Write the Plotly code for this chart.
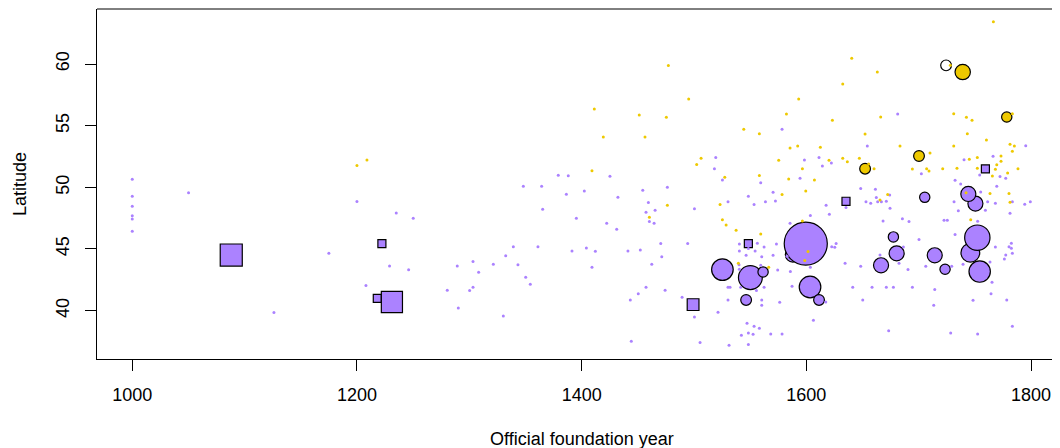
import plotly.graph_objects as go

# ---------------- data ----------------
# small dots (all other towns)
purple_dot_year = [
    1000.0, 1000.0, 1000.0, 1000.0, 1000.0, 1000.0, 1050.1, 1200.0, 1235.0, 1250.1, 1175.0, 1229.0, 1246.0, 1208.0, 1126.1,
    1379.2, 1388.1, 1425.2,
    1348.1, 1364.4, 1386.4, 1402.4, 1432.3, 1365.3, 1395.3, 1422.3, 1431.2, 1339.2, 1361.1, 1332.4, 1391.4, 1404.2,
    1412.2, 1441.2, 1409.2, 1289.3, 1303.3, 1308.3, 1321.4, 1343.3, 1350.2, 1354.3, 1280.4, 1300.3, 1303.3, 1290.2,
    1330.3, 1450.4, 1443.3, 1444.2, 1452.2,
    1578.4, 1519.4, 1518.2, 1598.3, 1611.3, 1614.3, 1622.3,
    1525.3, 1559.4, 1594.4, 1476.3, 1454.4, 1548.4, 1570.4, 1530.3, 1553.5, 1563.6, 1572.5, 1459.4, 1457.3, 1465.4,
    1460.3, 1464.5, 1500.4, 1617.6, 1620.5, 1603.6, 1585.5, 1470.4, 1494.4, 1471.3, 1462.4, 1540.4, 1556.4, 1562.4,
    1573.4, 1540.4, 1548.4, 1554.4, 1546.4, 1560.3, 1570.4, 1582.8, 1540.1, 1559.4, 1574.5, 1585.8, 1603.6, 1540.4,
    1622.6, 1625.3, 1626.5, 1457.3, 1474.3, 1489.4, 1530.3, 1532.1, 1541.6, 1555.6, 1562.4, 1530.3, 1560.3, 1560.3,
    1576.3, 1587.3, 1617.3, 1500.4, 1521.4, 1606.3, 1547.2, 1553.5, 1558.2, 1542.2, 1548.4, 1552.6, 1568.3, 1578.4,
    1505.4, 1531.2, 1548.4,
    1681.3, 1654.3, 1795.3, 1740.4, 1766.2,
    1702.4, 1754.3, 1772.4, 1777.5, 1732.4, 1737.4, 1769.5, 1648.4, 1661.5, 1662.3, 1674.2, 1653.1, 1657.3, 1663.5,
    1666.8, 1671.2, 1674.5, 1635.3, 1731.5, 1755.2, 1761.4, 1768.3, 1783.4, 1794.4, 1799.4, 1759.4, 1735.3, 1781.3,
    1668.3, 1685.5, 1691.4, 1722.6, 1725.5, 1752.5, 1732.4, 1700.3, 1686.4, 1665.6, 1768.3, 1782.5, 1780.4, 1782.5,
    1777.5, 1776.3, 1783.4, 1634.5, 1648.4, 1682.5, 1690.5, 1706.3, 1729.4, 1739.5, 1763.5, 1765.3, 1641.3, 1658.5,
    1671.2, 1677.5, 1694.4, 1714.3, 1764.4, 1650.2, 1748.4, 1778.4, 1713.4, 1783.4, 1673.3, 1728.5, 1752.5,
]
purple_dot_lat = [
    50.65, 49.27, 48.46, 47.70, 47.43, 46.43, 49.57, 48.86, 47.92, 47.49, 44.65, 43.62, 43.32, 42.03, 39.86,
    50.97, 50.94, 50.89,
    50.09, 50.09, 49.44, 49.71, 49.19, 48.22, 47.49, 47.09, 46.60, 45.19, 45.19, 44.46, 44.84, 45.09,
    44.82, 44.84, 43.52, 43.63, 43.98, 43.11, 43.76, 43.73, 42.71, 42.14, 41.65, 41.63, 41.90, 40.22,
    39.57, 41.38, 40.87, 37.52, 44.92,
    54.70, 52.41, 51.51, 52.22, 52.41, 51.73, 51.97,
    50.60, 50.38, 50.73, 50.00, 49.76, 49.27, 49.60, 48.84, 48.60, 48.84, 48.90, 48.76, 47.98, 48.14,
    47.22, 47.09, 48.27, 48.54, 47.82, 47.71, 47.09, 45.44, 45.44, 44.38, 43.76, 45.41, 45.46, 45.17,
    45.41, 44.84, 45.03, 44.84, 44.49, 44.38, 44.49, 44.41, 43.73, 43.68, 43.30, 43.17, 43.52, 43.36,
    45.19, 45.14, 45.44, 41.90, 41.65, 41.09, 41.90, 41.90, 41.90, 41.63, 41.90, 40.87, 40.87, 40.44,
    40.68, 41.98, 40.71, 39.49, 39.87, 39.22, 38.98, 38.73, 38.57, 38.00, 38.19, 38.08, 38.11, 38.11,
    37.41, 37.19, 37.25,
    55.95, 53.35, 53.38, 52.24, 52.51,
    51.11, 51.00, 50.87, 50.73, 50.57, 50.27, 50.09, 49.90, 49.84, 49.17, 49.38, 48.84, 48.71, 48.84,
    48.84, 48.87, 48.30, 48.36, 48.84, 49.63, 48.84, 48.71, 48.84, 48.63, 48.84, 48.14, 48.11, 47.90,
    47.27, 47.46, 47.22, 47.33, 47.33, 47.25, 46.17, 45.76, 45.17, 44.52, 45.17, 45.46, 45.19, 45.06,
    44.52, 44.19, 44.65, 43.84, 43.60, 43.84, 43.33, 43.60, 43.60, 43.76, 43.95, 42.30, 41.90, 41.90,
    41.90, 41.90, 41.90, 41.71, 41.38, 40.87, 40.84, 40.87, 40.44, 38.73, 38.38, 38.19, 38.11,
]

gold_dot_year = [
    1200.0, 1208.9,
    1411.3, 1451.3, 1419.3, 1456.4, 1409.2,
    1477.2, 1495.3, 1475.4, 1544.3, 1558.2, 1593.2, 1582.3, 1623.2, 1585.5, 1592.3, 1612.5, 1506.3, 1502.4,
    1575.4, 1596.5, 1620.2,
    1527.4, 1558.2, 1584.3, 1607.2, 1599.5, 1578.4, 1476.3, 1523.2, 1460.3, 1525.3, 1528.6, 1537.5, 1559.4,
    1596.5, 1539.5, 1566.5, 1601.5, 1598.6,
    1766.5, 1640.4, 1663.2, 1632.4, 1728.2, 1666.2, 1731.2, 1742.5, 1747.5, 1783.4, 1652.3, 1743.3, 1760.3,
    1683.4, 1731.2, 1781.3, 1785.2, 1783.4, 1632.4, 1636.5, 1647.2, 1710.1, 1752.2, 1745.1, 1773.3, 1773.3,
    1769.5, 1655.5, 1660.3, 1694.4, 1707.1, 1709.2, 1721.4, 1734.1, 1752.2, 1768.3, 1788.4,
    1779.2, 1765.6, 1763.5, 1780.4, 1781.3, 1742.2, 1672.4, 1665.6, 1746.3,
]
gold_dot_lat = [
    51.76, 52.22,
    56.35, 55.86, 54.08, 54.08, 51.35,
    59.87, 57.16, 55.68, 54.70, 54.35, 57.16, 55.95, 55.43, 53.19, 53.35, 53.24, 52.35, 51.86,
    52.19, 51.51, 52.19,
    50.82, 50.95, 50.68, 50.60, 49.71, 49.41, 48.54, 48.60, 47.57, 47.38, 46.95, 46.52, 46.22,
    47.27, 43.84, 43.52, 44.79, 44.06,
    63.43, 60.46, 59.35, 58.38, 59.89, 55.70, 55.97, 55.68, 55.43, 55.97, 54.32, 54.35, 53.84,
    53.35, 53.35, 53.49, 53.35, 52.92, 52.35, 52.08, 52.35, 52.78, 52.41, 52.27, 52.54, 52.11,
    51.84, 51.89, 51.51, 51.49, 51.51, 51.32, 51.51, 51.54, 51.54, 51.46, 51.51,
    51.17, 50.92, 49.49, 49.49, 48.79, 49.57, 49.41, 48.98, 47.38,
]

# highlighted towns (symbol size ~ magnitude)
purple_circle_year = [1588.0, 1599.5, 1525.3, 1550.2, 1561.5, 1546.4, 1603.3, 1611.3, 1705.4, 1750.5, 1744.2,
                      1677.5, 1680.4, 1666.5, 1714.3, 1723.5, 1746.0, 1752.2, 1754.3]
purple_circle_lat = [44.55, 45.44, 43.33, 42.68, 43.14, 40.87, 41.92, 40.87, 49.19, 48.68, 49.46,
                     45.98, 44.65, 43.68, 44.49, 43.36, 44.70, 45.92, 43.17]
purple_circle_mag = [1.42, 3.9, 2.0, 2.2, 1.0, 1.04, 2.0, 1.04, 1.0, 1.42, 1.42,
                     1.0, 1.42, 1.42, 1.42, 1.0, 1.75, 2.33, 1.98]

gold_circle_year = [1739.2, 1778.4, 1700.3, 1652.3]
gold_circle_lat = [59.35, 55.70, 52.54, 51.51]
gold_circle_mag = [1.45, 1.0, 1.04, 1.04]

white_circle_year = [1724.4]
white_circle_lat = [59.89]
white_circle_mag = [1.04]

square_year = [1088.1, 1222.2, 1218.1, 1231.1, 1548.4, 1499.2, 1635.3, 1759.4]
square_lat = [44.51, 45.43, 41.0, 40.70, 45.44, 40.49, 48.87, 51.49]
square_mag = [1.95, 0.71, 0.71, 1.87, 0.71, 1.04, 0.71, 0.71]

x_ticks = [1000, 1200, 1400, 1600, 1800]
y_ticks = [40, 45, 50, 55, 60]

# ---------------- style ----------------
PURPLE = "#AB82FF"
GOLD = "#EEC900"
UNIT = 11.3  # px per magnitude unit
FONT = "Liberation Sans, Arial, Helvetica, sans-serif"


def sizes(mags):
    return [m * UNIT - 1 for m in mags]


fig = go.Figure()

fig.add_trace(go.Scatter(
    x=square_year, y=square_lat, mode="markers",
    marker=dict(symbol="square", size=[m * UNIT for m in square_mag], color=PURPLE, opacity=1,
                line=dict(color="black", width=1.2)),
    hoverinfo="skip"))
fig.add_trace(go.Scatter(
    x=purple_circle_year, y=purple_circle_lat, mode="markers",
    marker=dict(symbol="circle", size=sizes(purple_circle_mag), color=PURPLE, opacity=1,
                line=dict(color="black", width=1.2)),
    hoverinfo="skip"))
fig.add_trace(go.Scatter(
    x=gold_circle_year, y=gold_circle_lat, mode="markers",
    marker=dict(symbol="circle", size=sizes(gold_circle_mag), color=GOLD, opacity=1,
                line=dict(color="black", width=1.2)),
    hoverinfo="skip"))
fig.add_trace(go.Scatter(
    x=white_circle_year, y=white_circle_lat, mode="markers",
    marker=dict(symbol="circle", size=sizes(white_circle_mag), color="white", opacity=1,
                line=dict(color="black", width=1.2)),
    hoverinfo="skip"))
fig.add_trace(go.Scatter(
    x=purple_dot_year, y=purple_dot_lat, mode="markers",
    marker=dict(symbol="circle", size=3, color=PURPLE, opacity=1, line=dict(width=0)),
    hoverinfo="skip"))
fig.add_trace(go.Scatter(
    x=gold_dot_year, y=gold_dot_lat, mode="markers",
    marker=dict(symbol="circle", size=3, color=GOLD, opacity=1, line=dict(width=0)),
    hoverinfo="skip"))

# page body has an 8px margin, so the figure is sized to fit the window from (8, 8)
fig.update_layout(
    template="none",
    width=1052, height=440,
    margin=dict(l=89, r=0, t=1, b=89, autoexpand=False),
    paper_bgcolor="white", plot_bgcolor="white",
    showlegend=False,
    font=dict(family=FONT, size=18, color="black"),
    xaxis=dict(range=[968.6, 1825.8], tickvals=x_ticks, ticktext=[str(v) for v in x_ticks],
               automargin=False, ticklabelstandoff=8,
               showgrid=False, zeroline=False, showline=True, linecolor="black", linewidth=1,
               ticks="outside", ticklen=11, tickcolor="black", tickwidth=1,
               tickfont=dict(family=FONT, size=18, color="black")),
    yaxis=dict(range=[36.08, 64.46], tickvals=y_ticks, ticktext=[str(v) for v in y_ticks],
               automargin=False, ticklabelstandoff=9,
               showgrid=False, zeroline=False, showline=True, linecolor="black", linewidth=1,
               ticks="outside", ticklen=11, tickcolor="black", tickwidth=1, tickangle=-90,
               tickfont=dict(family=FONT, size=18, color="black")),
    shapes=[dict(type="line", xref="paper", yref="paper", x0=0, x1=1, y0=1, y1=1,
                 line=dict(color="black", width=1))],
    annotations=[
        dict(text="Official foundation year", xref="x", yref="paper", x=1400, y=0,
             yanchor="middle", xanchor="center", yshift=-80, showarrow=False,
             font=dict(family=FONT, size=18, color="black")),
        dict(text="Latitude", xref="paper", yref="paper", x=0, y=0.5, textangle=-90,
             xanchor="center", yanchor="middle", xshift=-77, showarrow=False,
             font=dict(family=FONT, size=18, color="black")),
    ],
)

fig.write_html("out.html")
